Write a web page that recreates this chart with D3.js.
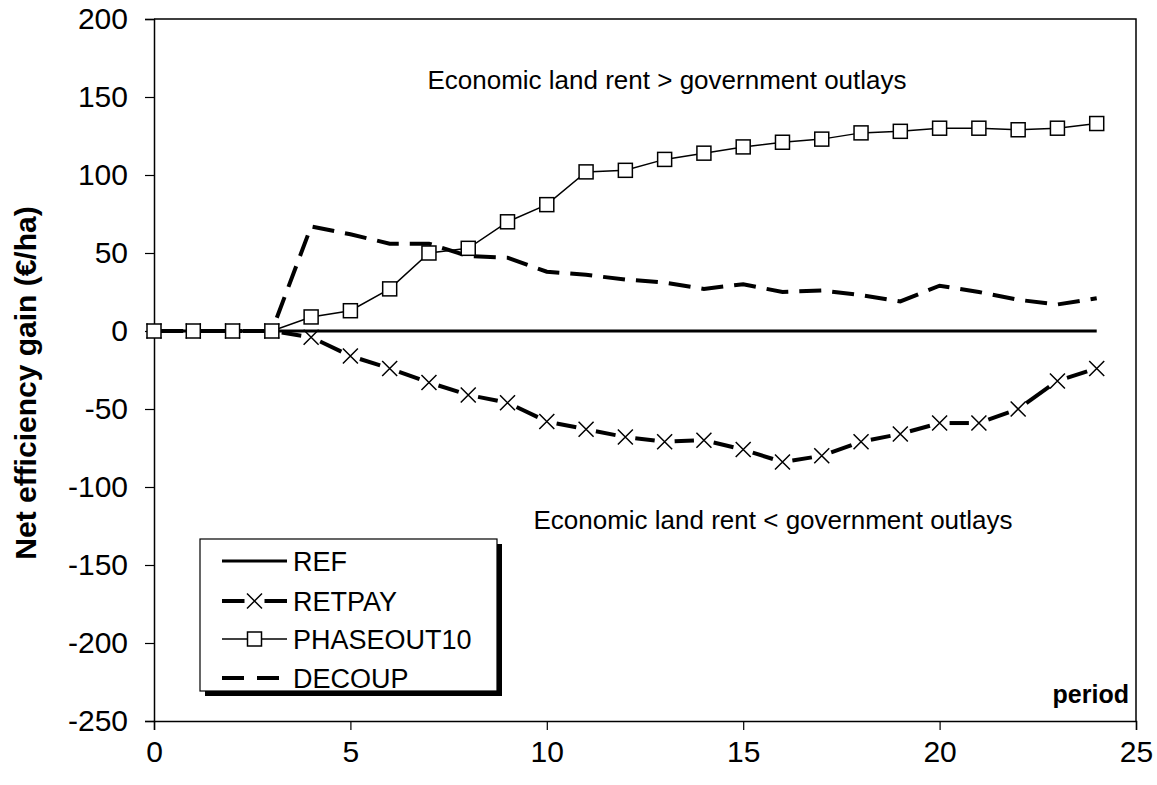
<!DOCTYPE html>
<html>
<head>
<meta charset="utf-8">
<script src="https://cdn.jsdelivr.net/npm/d3@7"></script>
<style>
  html, body { margin: 0; padding: 0; background: #fff; }
  svg { display: block; font-family: Arial, "Liberation Sans", sans-serif; }
</style>
</head>
<body>
<svg id="chart" width="1157" height="785"></svg>
<script>
// Periods 0..24
const periods = d3.range(0, 25);

// Net efficiency gain per scenario (€/ha)
const ref = periods.map(() => 0);
const retpay = [0, 0, 0, 0, -4, -16, -24, -33, -41, -46, -58, -63, -68, -71, -70, -76, -84, -80, -71, -66, -59, -59, -50, -32, -24];
const phaseout10 = [0, 0, 0, 0, 9, 13, 27, 50, 53, 70, 81, 102, 103, 110, 114, 118, 121, 123, 127, 128, 130, 130, 129, 130, 133];
const decoup = [0, 0, 0, 0, 67, 62, 56, 56, 48, 47, 38, 36, 33, 31, 27, 30, 25, 26, 23, 19, 29, 25, 20, 17, 21];

const xTicks = [0, 5, 10, 15, 20, 25];
const yTicks = [200, 150, 100, 50, 0, -50, -100, -150, -200, -250];

const seriesNames = ["REF", "RETPAY", "PHASEOUT10", "DECOUP"];

const svg = d3.select("#chart");
const plotL = 154, plotR = 1136, plotT = 19, plotB = 721;

const x = d3.scaleLinear().domain([0, 25]).range([plotL, plotR]);
const y = d3.scaleLinear().domain([-250, 200]).range([plotB, plotT]);

const TICK_FONT = 30;
const FAMILY = "Arial, 'Liberation Sans', sans-serif";

// Plot frame (top and right edges)
svg.append("path")
  .attr("d", `M${plotL},${plotT}H${plotR}V${plotB}`)
  .attr("fill", "none").attr("stroke", "#000").attr("stroke-width", 1.5);

// Y axis
const yAxis = svg.append("g")
  .attr("transform", `translate(${plotL},0)`)
  .call(d3.axisLeft(y).tickValues(yTicks).tickSize(9).tickPadding(17).tickFormat(d => d < 0 ? "-" + Math.abs(d) : String(d)));
yAxis.select(".domain").attr("stroke-width", 1.5);
yAxis.selectAll(".tick line").attr("stroke-width", 1.2);
yAxis.selectAll("text").attr("font-size", TICK_FONT).attr("font-family", FAMILY).attr("fill", "#000");

// X axis
const xAxis = svg.append("g")
  .attr("transform", `translate(0,${plotB})`)
  .call(d3.axisBottom(x).tickValues(xTicks).tickSize(9).tickPadding(11).tickFormat(d3.format("d")));
xAxis.select(".domain").attr("stroke-width", 1.5);
xAxis.selectAll(".tick line").attr("stroke-width", 1.2);
xAxis.selectAll("text").attr("font-size", TICK_FONT).attr("font-family", FAMILY).attr("fill", "#000");

// Y axis title
svg.append("text")
  .attr("transform", `translate(36,383) rotate(-90)`)
  .attr("text-anchor", "middle")
  .attr("font-size", 30).attr("font-weight", "bold")
  .text("Net efficiency gain (€/ha)");

// "period" label inside the plot
svg.append("text")
  .attr("x", plotR - 7).attr("y", plotB - 18)
  .attr("text-anchor", "end")
  .attr("font-size", 25).attr("font-weight", "bold")
  .text("period");

// Region annotations
svg.append("text")
  .attr("x", 667).attr("y", 89)
  .attr("text-anchor", "middle").attr("font-size", 26)
  .text("Economic land rent > government outlays");
svg.append("text")
  .attr("x", 773).attr("y", 529)
  .attr("text-anchor", "middle").attr("font-size", 26)
  .text("Economic land rent < government outlays");

const line = d3.line().x((d, i) => x(periods[i])).y(d => y(d));
const pts = arr => arr.map((v, i) => [x(periods[i]), y(v)]);

// REF
svg.append("path").attr("d", line(ref))
  .attr("fill", "none").attr("stroke", "#000").attr("stroke-width", 3);

// DECOUP (thick dashed)
svg.append("path").attr("d", line(decoup))
  .attr("fill", "none").attr("stroke", "#000").attr("stroke-width", 4)
  .attr("stroke-dasharray", "22,11");

// RETPAY: thick segments broken around each X marker
const retPts = pts(retpay);
const gap = 10;
const segs = d3.pairs(retPts).map(([a, b]) => {
  const dx = b[0] - a[0], dy = b[1] - a[1];
  const len = Math.hypot(dx, dy);
  const ux = dx / len, uy = dy / len;
  return [[a[0] + ux * gap, a[1] + uy * gap], [b[0] - ux * gap, b[1] - uy * gap]];
});
svg.append("g").selectAll("line").data(segs).join("line")
  .attr("x1", d => d[0][0]).attr("y1", d => d[0][1])
  .attr("x2", d => d[1][0]).attr("y2", d => d[1][1])
  .attr("stroke", "#000").attr("stroke-width", 4);
const xm = 7.5;
svg.append("g").selectAll("path").data(retPts).join("path")
  .attr("d", d => `M${d[0]-xm},${d[1]-xm}L${d[0]+xm},${d[1]+xm}M${d[0]-xm},${d[1]+xm}L${d[0]+xm},${d[1]-xm}`)
  .attr("stroke", "#000").attr("stroke-width", 1.5).attr("fill", "none");

// PHASEOUT10: thin line with open squares
svg.append("path").attr("d", line(phaseout10))
  .attr("fill", "none").attr("stroke", "#000").attr("stroke-width", 1.5);
const sq = 14;
svg.append("g").selectAll("rect").data(pts(phaseout10)).join("rect")
  .attr("x", d => d[0] - sq / 2).attr("y", d => d[1] - sq / 2)
  .attr("width", sq).attr("height", sq)
  .attr("fill", "#fff").attr("stroke", "#000").attr("stroke-width", 1.5);

// Legend
const lg = svg.append("g");
const lx = 200, ly = 539, lw = 297, lh = 152;
lg.append("rect").attr("x", lx + 5).attr("y", ly + 5).attr("width", lw).attr("height", lh).attr("fill", "#000");
lg.append("rect").attr("x", lx).attr("y", ly).attr("width", lw).attr("height", lh)
  .attr("fill", "#fff").attr("stroke", "#000").attr("stroke-width", 1.2);
const rowY = [561, 601, 639, 678];
const sx1 = 222, sx2 = 287, sxm = (sx1 + sx2) / 2;
seriesNames.forEach((name, i) => {
  const yy = rowY[i];
  const g = lg.append("g");
  if (name === "REF") {
    g.append("line").attr("x1", sx1).attr("x2", sx2).attr("y1", yy).attr("y2", yy)
      .attr("stroke", "#000").attr("stroke-width", 3);
  } else if (name === "RETPAY") {
    g.append("line").attr("x1", sx1).attr("x2", sxm - 10).attr("y1", yy).attr("y2", yy).attr("stroke", "#000").attr("stroke-width", 4);
    g.append("line").attr("x1", sxm + 10).attr("x2", sx2).attr("y1", yy).attr("y2", yy).attr("stroke", "#000").attr("stroke-width", 4);
    g.append("path").attr("d", `M${sxm-xm},${yy-xm}L${sxm+xm},${yy+xm}M${sxm-xm},${yy+xm}L${sxm+xm},${yy-xm}`)
      .attr("stroke", "#000").attr("stroke-width", 1.5);
  } else if (name === "PHASEOUT10") {
    g.append("line").attr("x1", sx1).attr("x2", sx2).attr("y1", yy).attr("y2", yy).attr("stroke", "#000").attr("stroke-width", 1.5);
    g.append("rect").attr("x", sxm - sq / 2).attr("y", yy - sq / 2).attr("width", sq).attr("height", sq)
      .attr("fill", "#fff").attr("stroke", "#000").attr("stroke-width", 1.5);
  } else {
    g.append("line").attr("x1", sx1).attr("x2", sx2).attr("y1", yy).attr("y2", yy)
      .attr("stroke", "#000").attr("stroke-width", 4).attr("stroke-dasharray", "22,13");
  }
  g.append("text").attr("x", 293).attr("y", yy + 9.5).attr("font-size", 27).text(name);
});
</script>
</body>
</html>
